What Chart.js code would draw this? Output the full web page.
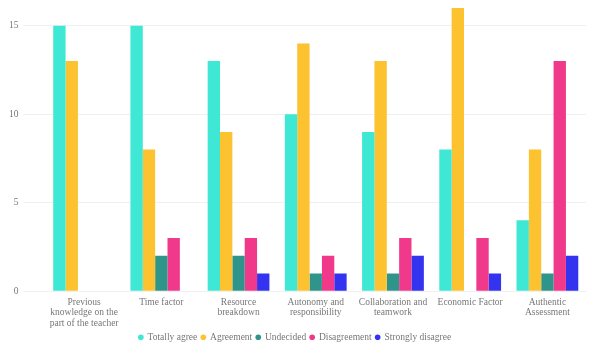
<!DOCTYPE html>
<html>
<head>
<meta charset="utf-8">
<script src="https://cdn.jsdelivr.net/npm/chart.js@4/dist/chart.umd.min.js"></script>
<style>
  html, body { margin: 0; padding: 0; background: #fff; }
  #wrap { width: 589px; height: 351px; position: relative; }
</style>
</head>
<body>
<div id="wrap"><canvas id="chart"></canvas></div>
<script>
// categories (wrapped the way the labels appear)
const categories = [
    ['Previous', 'knowledge on the', 'part of the teacher'],
    'Time factor',
    ['Resource', 'breakdown'],
    ['Autonomy and', 'responsibility'],
    ['Collaboration and', 'teamwork'],
    'Economic Factor',
    ['Authentic', 'Assessment']
];

// series values
const totallyAgree     = [15, 15, 13, 10, 9, 8, 4];
const agreement        = [13, 8, 9, 14, 13, 16, 8];
const undecided        = [0, 2, 2, 1, 1, 0, 1];
const disagreement     = [0, 3, 3, 2, 3, 3, 13];
const stronglyDisagree = [0, 0, 1, 1, 2, 1, 2];

const yTicks = [0, 5, 10, 15];

const textColor = '#777';
const fontFamily = '"Liberation Serif", "Times New Roman", serif';

const ctx = document.getElementById('chart').getContext('2d');
new Chart(ctx, {
    type: 'bar',
    data: {
        labels: categories,
        datasets: [
            { label: 'Totally agree', data: totallyAgree, backgroundColor: '#3ee8d4' },
            { label: 'Agreement', data: agreement, backgroundColor: '#fcc22f' },
            { label: 'Undecided', data: undecided, backgroundColor: '#2f958a' },
            { label: 'Disagreement', data: disagreement, backgroundColor: '#f0398b' },
            { label: 'Strongly disagree', data: stronglyDisagree, backgroundColor: '#3333f0' }
        ]
    },
    options: {
        responsive: true,
        maintainAspectRatio: false,
        animation: false,
        layout: { padding: { left: 4, right: 3, top: 8, bottom: -1 } },
        datasets: {
            bar: { categoryPercentage: 0.8, barPercentage: 1.0 }
        },
        plugins: {
            tooltip: { enabled: false },
            legend: {
                position: 'bottom',
                labels: {
                    usePointStyle: true,
                    pointStyle: 'circle',
                    boxWidth: 4,
                    boxHeight: 4,
                    padding: 4,
                    color: textColor,
                    font: { family: fontFamily, size: 9.5 }
                }
            }
        },
        scales: {
            x: {
                grid: { display: false, drawTicks: false },
                border: { display: false },
                // pull the legend a bit closer to the category labels
                afterFit: (scale) => { scale.height -= 6; },
                ticks: {
                    color: textColor,
                    padding: 6,
                    maxRotation: 0,
                    autoSkip: false,
                    font: { family: fontFamily, size: 9.5, lineHeight: 1.1 }
                }
            },
            y: {
                min: 0,
                max: 16,
                border: { display: false },
                grid: { color: '#f0f0f0', tickLength: 22, tickColor: '#f0f0f0' },
                afterBuildTicks: (axis) => {
                    axis.ticks = yTicks.map(v => ({ value: v }));
                },
                afterFit: (scale) => { scale.paddingTop = 0; },
                ticks: {
                    color: textColor,
                    padding: 5,
                    font: { family: fontFamily, size: 9.5 }
                }
            }
        }
    }
});
</script>
</body>
</html>
